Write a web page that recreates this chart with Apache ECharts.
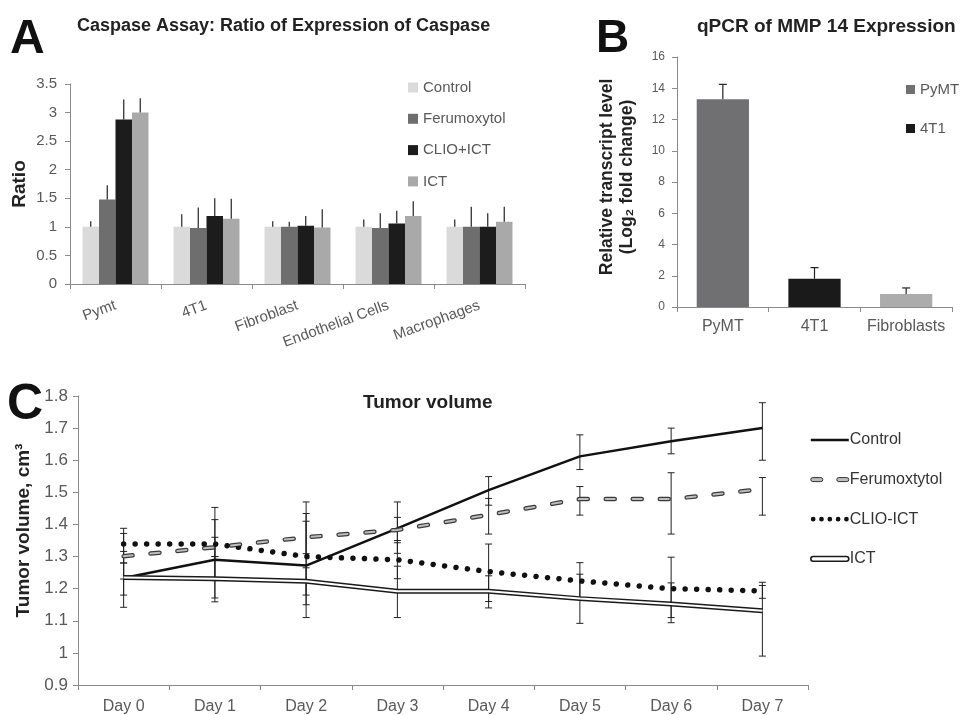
<!DOCTYPE html>
<html><head><meta charset="utf-8">
<script src="https://cdn.jsdelivr.net/npm/echarts@6/dist/echarts.min.js"></script>
<style>html,body{margin:0;padding:0;background:#fff}#c{width:963px;height:715px}</style>
</head><body><div id="c"></div>
<script>
// ---------- Panel A: Caspase assay ----------
const caspaseCategories = ['Pymt', '4T1', 'Fibroblast', 'Endothelial Cells', 'Macrophages'];
const caspaseSeriesNames = ['Control', 'Ferumoxytol', 'CLIO+ICT', 'ICT'];
const caspaseControl     = [1.00, 1.00, 1.00, 1.00, 1.00];
const caspaseFerumoxytol = [1.48, 0.98, 1.00, 0.98, 1.00];
const caspaseClioIct     = [2.88, 1.19, 1.02, 1.06, 1.00];
const caspaseIct         = [3.00, 1.14, 0.99, 1.19, 1.09];
const caspaseControlErr     = [0.10, 0.22, 0.10, 0.13, 0.13];
const caspaseFerumoxytolErr = [0.25, 0.36, 0.09, 0.26, 0.35];
const caspaseClioIctErr     = [0.35, 0.31, 0.17, 0.22, 0.24];
const caspaseIctErr         = [0.25, 0.35, 0.32, 0.26, 0.26];

// ---------- Panel B: qPCR ----------
const qpcrCategories = ['PyMT', '4T1', 'Fibroblasts'];
const qpcrValues = [13.3, 1.81, 0.83];
const qpcrErr    = [0.95, 0.71, 0.39];

// ---------- Panel C: Tumor volume ----------
const days = ['Day 0', 'Day 1', 'Day 2', 'Day 3', 'Day 4', 'Day 5', 'Day 6', 'Day 7'];
const tumorNames = ['Control', 'Ferumoxtytol', 'CLIO-ICT', 'ICT'];
const tumorControl     = [1.233, 1.290, 1.272, 1.388, 1.507, 1.612, 1.659, 1.700];
const tumorFerumoxytol = [1.301, 1.329, 1.360, 1.383, 1.430, 1.479, 1.479, 1.510];
const tumorClioIct     = [1.339, 1.339, 1.300, 1.290, 1.253, 1.224, 1.200, 1.193];
const tumorIct         = [1.235, 1.231, 1.223, 1.192, 1.192, 1.169, 1.152, 1.131];
const tumorControlRange     = [[1.142,1.316],[1.171,1.415],[1.110,1.434],[1.310,1.470],[1.460,1.549],[1.571,1.679],[1.620,1.700],[1.600,1.779]];
const tumorFerumoxytolRange = [[1.230,1.372],[1.300,1.360],[1.309,1.410],[1.343,1.422],[1.370,1.481],[1.429,1.518],[1.370,1.561],[1.429,1.546]];
const tumorClioIctRange     = [[1.280,1.388],[1.225,1.453],[1.150,1.470],[1.231,1.350],[1.160,1.339],[1.170,1.281],[1.110,1.298],[1.170,1.220]];
const tumorIctRange         = [[1.180,1.280],[1.159,1.300],[1.180,1.265],[1.110,1.270],[1.140,1.240],[1.092,1.245],[1.094,1.218],[0.990,1.210]];

const FONT = '"Liberation Sans", Arial, sans-serif';
const LBL = '#595959';
const AXIS = '#8a8a8a';
const ERR = '#222';

const caspaseColors = ['#dadada', '#6e6e6e', '#1c1c1c', '#a9a9a9'];
const caspaseVals = [caspaseControl, caspaseFerumoxytol, caspaseClioIct, caspaseIct];
const caspaseErrs = [caspaseControlErr, caspaseFerumoxytolErr, caspaseClioIctErr, caspaseIctErr];
const A_GAP = 0.275;

function groupedErr(values, errs, idx, n) {
  return {
    type: 'custom', xAxisIndex: 0, yAxisIndex: 0, silent: true, z: 5,
    data: values.map((v, i) => [i, v, v + errs[i]]),
    renderItem(params, api) {
      const c = api.coord([api.value(0), api.value(1)]);
      const t = api.coord([api.value(0), api.value(2)]);
      const band = api.size([1, 0])[0];
      const bw = band * (1 - A_GAP) / n;
      const x = c[0] - band * (1 - A_GAP) / 2 + (idx + 0.5) * bw;
      return { type: 'line', shape: { x1: x, y1: c[1], x2: x, y2: t[1] }, style: { stroke: ERR, lineWidth: 1.2 } };
    }
  };
}

function rangeErr(ranges, xi, yi, capHalf, z) {
  return {
    type: 'custom', xAxisIndex: xi, yAxisIndex: yi, silent: true, z: z || 5,
    data: ranges.map((r, i) => [i, r[0], r[1]]),
    renderItem(params, api) {
      const lo = api.coord([api.value(0), api.value(1)]);
      const hi = api.coord([api.value(0), api.value(2)]);
      const x = lo[0];
      const st = { stroke: ERR, lineWidth: 1 };
      return { type: 'group', children: [
        { type: 'line', shape: { x1: x, y1: lo[1], x2: x, y2: hi[1] }, style: st },
        { type: 'line', shape: { x1: x - capHalf, y1: lo[1], x2: x + capHalf, y2: lo[1] }, style: st },
        { type: 'line', shape: { x1: x - capHalf, y1: hi[1], x2: x + capHalf, y2: hi[1] }, style: st }
      ] };
    }
  };
}

const series = [];
// Panel A bars
caspaseSeriesNames.forEach((name, k) => {
  series.push({
    name, type: 'bar', xAxisIndex: 0, yAxisIndex: 0, data: caspaseVals[k],
    barGap: 0, barCategoryGap: (A_GAP * 100) + '%',
    itemStyle: { color: caspaseColors[k] }, z: 2
  });
});
caspaseSeriesNames.forEach((name, k) => series.push(groupedErr(caspaseVals[k], caspaseErrs[k], k, 4)));

// Panel B bars (stacked so each sits centred in its category)
const qpcrColors = ['#707073', '#1a1a1a', '#acacac'];
qpcrCategories.forEach((name, k) => {
  series.push({
    name, type: 'bar', xAxisIndex: 1, yAxisIndex: 1, stack: 'q',
    data: qpcrValues.map((v, i) => (i === k ? v : '-')),
    barCategoryGap: '43%', itemStyle: { color: qpcrColors[k] }, z: 2
  });
});
series.push({
  type: 'custom', xAxisIndex: 1, yAxisIndex: 1, silent: true, z: 5,
  data: qpcrValues.map((v, i) => [i, v, v + qpcrErr[i]]),
  renderItem(params, api) {
    const c = api.coord([api.value(0), api.value(1)]);
    const t = api.coord([api.value(0), api.value(2)]);
    const st = { stroke: ERR, lineWidth: 1.2 };
    return { type: 'group', children: [
      { type: 'line', shape: { x1: c[0], y1: c[1], x2: c[0], y2: t[1] }, style: st },
      { type: 'line', shape: { x1: c[0] - 4, y1: t[1], x2: c[0] + 4, y2: t[1] }, style: st }
    ] };
  }
});

// Panel C error bars
[tumorControlRange, tumorFerumoxytolRange, tumorClioIctRange, tumorIctRange].forEach(r => series.push(rangeErr(r, 2, 2, 3.5, 3)));

// Panel C lines
series.push({
  name: 'Control', type: 'line', xAxisIndex: 2, yAxisIndex: 2, data: tumorControl,
  symbol: 'none', lineStyle: { color: '#111', width: 2.5 }, z: 6
});
series.push({
  name: 'Ferumoxtytol', type: 'line', xAxisIndex: 2, yAxisIndex: 2, data: tumorFerumoxytol,
  symbol: 'none', lineStyle: { color: '#3a3a3a', width: 4.5, type: [9, 18], cap: 'round' }, z: 6
});
series.push({
  name: 'Ferumoxtytol-inner', type: 'line', xAxisIndex: 2, yAxisIndex: 2, data: tumorFerumoxytol,
  symbol: 'none', silent: true, lineStyle: { color: '#bdbdbd', width: 2, type: [9, 18], cap: 'round' }, z: 7
});
series.push({
  name: 'CLIO-ICT', type: 'line', xAxisIndex: 2, yAxisIndex: 2, data: tumorClioIct,
  symbol: 'none', lineStyle: { color: '#111', width: 5.5, type: [0.01, 11.5], cap: 'round' }, z: 6
});
series.push({
  name: 'ICT', type: 'line', xAxisIndex: 2, yAxisIndex: 2, data: tumorIct,
  symbol: 'none', lineStyle: { color: '#1a1a1a', width: 5 }, z: 6
});
series.push({
  name: 'ICT-inner', type: 'line', xAxisIndex: 2, yAxisIndex: 2, data: tumorIct,
  symbol: 'none', silent: true, lineStyle: { color: '#ffffff', width: 2 }, z: 7
});

const axisLineStyle = { show: true, lineStyle: { color: AXIS, width: 1 } };
const tickStyle = { show: true, length: 5, lineStyle: { color: AXIS } };

const option = {
  backgroundColor: '#fff',
  animation: false,
  textStyle: { fontFamily: FONT },
  title: [
    { text: 'A', left: 10, top: 16, padding: 0, textStyle: { fontSize: 48, fontWeight: 'bold', color: '#111', fontFamily: FONT } },
    { text: 'B', left: 596, top: 16, padding: 0, textStyle: { fontSize: 46, fontWeight: 'bold', color: '#111', fontFamily: FONT } },
    { text: 'C', left: 7, top: 380, padding: 0, textStyle: { fontSize: 50, fontWeight: 'bold', color: '#111', fontFamily: FONT } },
    { text: 'Caspase Assay: Ratio of Expression of Caspase', left: 77, top: 17, padding: 0, textStyle: { fontSize: 18, fontWeight: 'bold', color: '#222', fontFamily: FONT } },
    { text: 'qPCR of MMP 14 Expression', left: 697, top: 17, padding: 0, textStyle: { fontSize: 19, fontWeight: 'bold', color: '#222', fontFamily: FONT } },
    { text: 'Tumor volume', left: 363, top: 393, padding: 0, textStyle: { fontSize: 19, fontWeight: 'bold', color: '#222', fontFamily: FONT } }
  ],
  legend: [
    {
      data: caspaseSeriesNames, orient: 'vertical', left: 408, top: 80, padding: 0,
      itemWidth: 10, itemHeight: 10, itemGap: 16.3, icon: 'rect',
      textStyle: { fontSize: 15, color: LBL, fontFamily: FONT }
    },
    {
      data: ['PyMT', '4T1'], orient: 'vertical', left: 906, top: 82, padding: 0,
      itemWidth: 9, itemHeight: 9, itemGap: 24, icon: 'rect',
      textStyle: { fontSize: 15, color: LBL, fontFamily: FONT }
    },
    {
      data: [
        { name: 'Control', icon: 'path://M0,0H40V2.6H0Z', itemStyle: { color: '#111', borderWidth: 0 } },
        { name: 'Ferumoxtytol', icon: 'path://M3,0H11A2,2 0 0 1 11,4H3A2,2 0 0 1 3,0ZM29,0H37A2,2 0 0 1 37,4H29A2,2 0 0 1 29,0Z', itemStyle: { color: '#bdbdbd', borderColor: '#333', borderWidth: 1 } },
        { name: 'CLIO-ICT', icon: 'path://M0,2.5A2.5,2.5 0 1 0 5,2.5A2.5,2.5 0 1 0 0,2.5ZM8.75,2.5A2.5,2.5 0 1 0 13.75,2.5A2.5,2.5 0 1 0 8.75,2.5ZM17.5,2.5A2.5,2.5 0 1 0 22.5,2.5A2.5,2.5 0 1 0 17.5,2.5ZM26.25,2.5A2.5,2.5 0 1 0 31.25,2.5A2.5,2.5 0 1 0 26.25,2.5ZM35,2.5A2.5,2.5 0 1 0 40,2.5A2.5,2.5 0 1 0 35,2.5Z', itemStyle: { color: '#111', borderWidth: 0 } },
        { name: 'ICT', icon: 'path://M2.5,0H37.5A2.5,2.5 0 0 1 37.5,5H2.5A2.5,2.5 0 0 1 2.5,0Z', itemStyle: { color: '#fff', borderColor: '#1a1a1a', borderWidth: 1.6 } }
      ],
      orient: 'vertical', left: 810, top: 432, padding: 0,
      itemWidth: 38, itemHeight: 6, itemGap: 23.6,
      textStyle: { fontSize: 16, color: '#333', fontFamily: FONT, padding: [0, 0, 0, -4] }
    }
  ],
  grid: [
    { left: 70, top: 84, width: 455, height: 200 },
    { left: 677, top: 57, width: 275, height: 250 },
    { left: 78, top: 396, width: 730, height: 291 }
  ],
  xAxis: [
    {
      type: 'category', gridIndex: 0, data: caspaseCategories,
      axisLine: axisLineStyle, axisTick: tickStyle,
      axisLabel: { rotate: 20, fontSize: 15, color: LBL, margin: 21, interval: 0, fontFamily: FONT }
    },
    {
      type: 'category', gridIndex: 1, data: qpcrCategories,
      axisLine: axisLineStyle, axisTick: tickStyle,
      axisLabel: { fontSize: 16, color: LBL, margin: 12, interval: 0, fontFamily: FONT }
    },
    {
      type: 'category', gridIndex: 2, data: days,
      axisLine: axisLineStyle, axisTick: tickStyle,
      axisLabel: { fontSize: 16, color: LBL, margin: 14, interval: 0, fontFamily: FONT }
    }
  ],
  yAxis: [
    {
      type: 'value', gridIndex: 0, min: 0, max: 3.5, interval: 0.5,
      axisLine: axisLineStyle, axisTick: tickStyle, splitLine: { show: false },
      axisLabel: { fontSize: 15, color: LBL, margin: 13, fontFamily: FONT },
      name: 'Ratio', nameLocation: 'middle', nameGap: 41, nameRotate: 90,
      nameTextStyle: { fontSize: 19, fontWeight: 'bold', color: '#222', fontFamily: FONT }
    },
    {
      type: 'value', gridIndex: 1, min: 0, max: 16, interval: 2,
      axisLine: axisLineStyle, axisTick: tickStyle, splitLine: { show: false },
      axisLabel: { fontSize: 12, color: LBL, margin: 12, fontFamily: FONT },
      name: 'Relative transcript level\n(Log\u2082 fold change)', nameLocation: 'middle', nameGap: 40, nameRotate: 90,
      nameTextStyle: { fontSize: 17.5, fontWeight: 'bold', color: '#222', lineHeight: 20, fontFamily: FONT, padding: [0, 0, 0, 10] }
    },
    {
      type: 'value', gridIndex: 2, min: 0.9, max: 1.8, interval: 0.1,
      axisLine: axisLineStyle, axisTick: tickStyle, splitLine: { show: false },
      axisLabel: { fontSize: 17, color: LBL, margin: 10, fontFamily: FONT },
      name: 'Tumor volume, cm\u00b3', nameLocation: 'middle', nameGap: 44, nameRotate: 90,
      nameTextStyle: { fontSize: 19, fontWeight: 'bold', color: '#222', fontFamily: FONT, padding: [0, 0, 0, 20] }
    }
  ],
  series
};

const chart = echarts.init(document.getElementById('c'), null, { renderer: 'canvas' });
chart.setOption(option);
</script>
</body></html>
